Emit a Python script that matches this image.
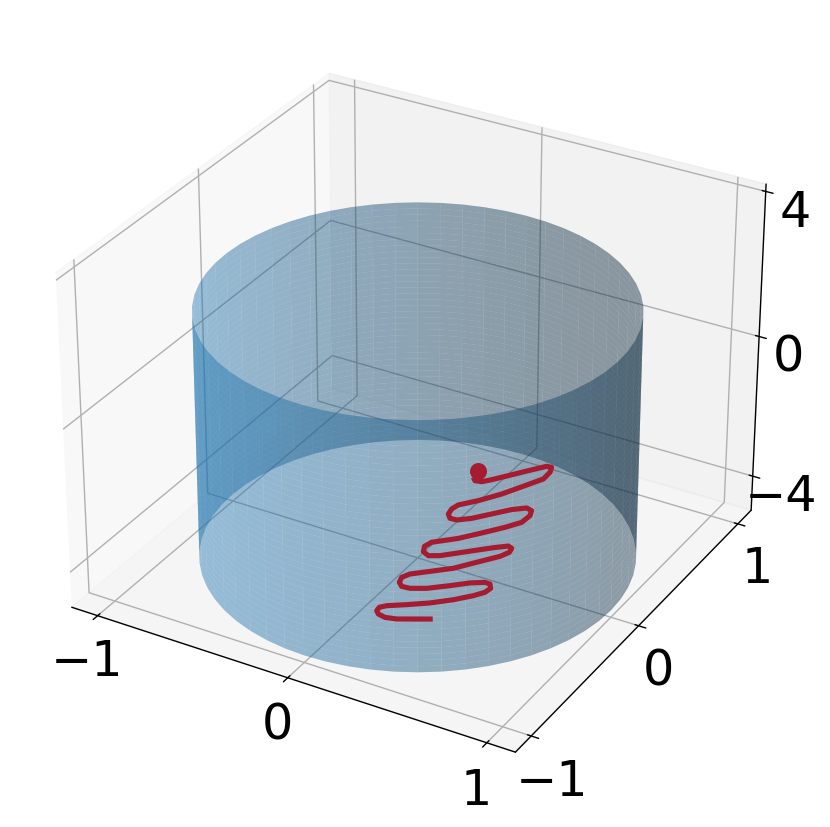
import numpy as np, seaborn as sns, matplotlib
matplotlib.use('Agg')
import matplotlib.pyplot as plt
from matplotlib.transforms import Affine2D
sns.set_theme(style='white', rc={'grid.color':'#b0b0b0','axes.edgecolor':'black','xtick.color':'black','ytick.color':'black','text.color':'black','axes.linewidth':1.0,'grid.linewidth':1.0,'xtick.major.width':1.0,'ytick.major.width':1.0})
plt.rcParams['font.family'] = ['DejaVu Sans']

radius = 1.0
z_bottom, z_top = -4.8, 2.08
x_ticks = [-1, 0, 1]
y_ticks = [-1, 0, 1]
z_ticks = [-4, 0, 4]
path_x = [0.33, 0.255, 0.19, 0.138, 0.098, 0.078, 0.074, 0.096, 0.169, 0.253, 0.331, 0.392, 0.424, 0.43, 0.41, 0.383, 0.327, 0.26, 0.179, 0.114, 0.073, 0.047, 0.035, 0.053, 0.121, 0.2, 0.267, 0.335, 0.355, 0.348, 0.325, 0.272, 0.183, 0.094, 0.048, 0.011, -0.008, 0.003, 0.093, 0.163, 0.232, 0.278, 0.283, 0.268, 0.237, 0.183, 0.121, 0.06, 0.007, -0.028, -0.053, -0.062, -0.053, 0.009, 0.075, 0.133, 0.179, 0.177, 0.162, 0.137, 0.081, 0.021, -0.029, -0.061, -0.093, -0.115]
path_y = [-0.437, -0.48, -0.517, -0.532, -0.523, -0.503, -0.473, -0.445, -0.393, -0.328, -0.252, -0.178, -0.127, -0.085, -0.055, -0.054, -0.092, -0.157, -0.23, -0.267, -0.272, -0.248, -0.206, -0.163, -0.098, -0.022, 0.076, 0.174, 0.226, 0.261, 0.271, 0.224, 0.133, 0.042, 0.015, 0.033, 0.076, 0.123, 0.214, 0.309, 0.406, 0.483, 0.555, 0.597, 0.607, 0.559, 0.478, 0.398, 0.351, 0.348, 0.377, 0.424, 0.471, 0.551, 0.658, 0.779, 0.876, 0.945, 0.989, 0.986, 0.907, 0.82, 0.748, 0.709, 0.701, 0.724]
path_z = -4.9
end_x, end_y, end_z = -0.127, 0.787, -4.9
path_color = '#a51c30'

fig = plt.figure(figsize=(8.3, 8.28), dpi=100)
ax = fig.add_axes([0.0134, 0.0302, 0.954, 0.954], projection='3d', computed_zorder=False)
theta = np.linspace(0, 2*np.pi, 61)
zz = np.linspace(z_bottom, z_top, 41)
T, Z = np.meshgrid(theta, zz)
ax.plot_surface(radius*np.cos(T), radius*np.sin(T), Z, color='#1f77b4', alpha=0.45, rcount=41, ccount=61, zorder=1, shade=True, linewidth=0, edgecolor='none')
ax.plot(path_x, path_y, np.full(len(path_x), path_z), color=path_color, lw=3.7, zorder=3, solid_joinstyle='round', solid_capstyle='butt')
ax.scatter([end_x], [end_y], [end_z], color=path_color, s=150, depthshade=False, zorder=4, linewidths=0)
ax.set_xlim(-1.14, 1.14); ax.set_ylim(-1.14, 1.14); ax.set_zlim(-5.0, 4.2)
ax.set_xticks(x_ticks); ax.set_yticks(y_ticks); ax.set_zticks(z_ticks)
ax.tick_params(labelsize=35.5)
ax.tick_params(axis='z', pad=4.8)
ax.tick_params(axis='y', pad=5.2)
for tick in ax.zaxis.get_major_ticks():
    tick.label1.set_transform(ax.transData + Affine2D().translate(0, 4.5))
fig.savefig('out.png', dpi=100)
